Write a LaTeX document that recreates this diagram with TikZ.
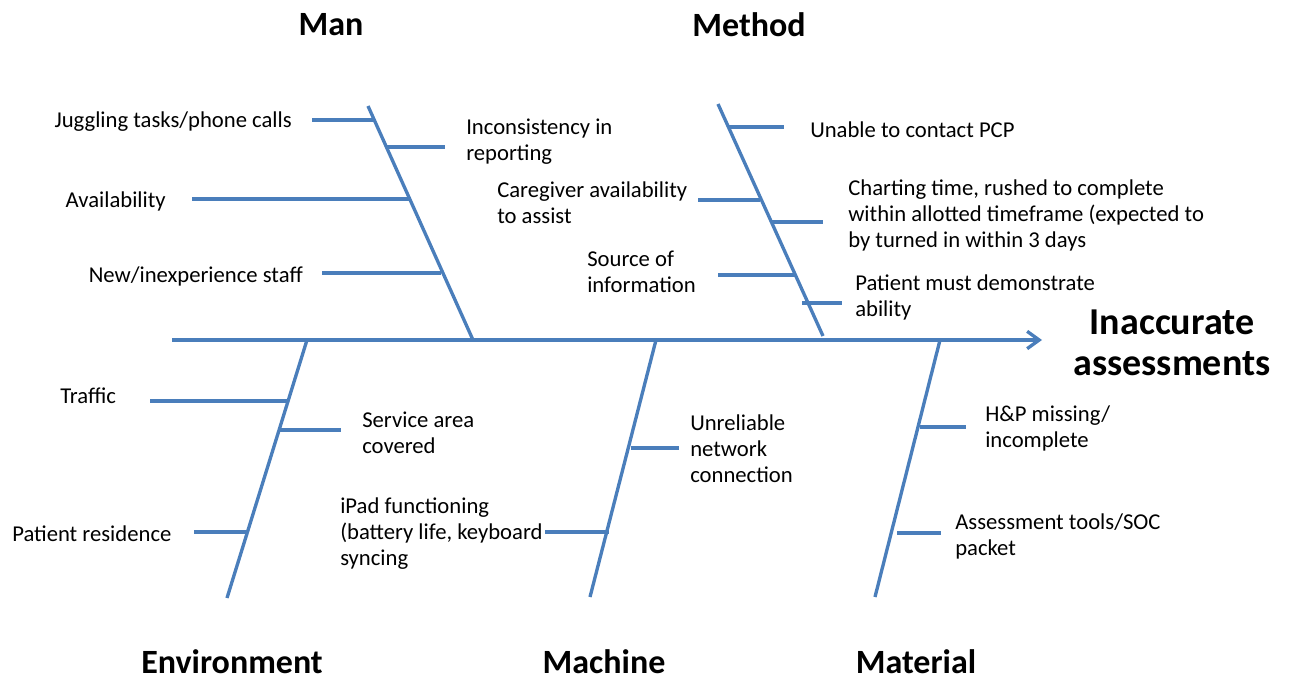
\documentclass[tikz,border=0pt]{standalone}
\usepackage{fontspec}
\setmainfont{Carlito}
\usetikzlibrary{arrows.meta}
\definecolor{bonecol}{RGB}{74,126,187}
\begin{document}
\begin{tikzpicture}[x=0.75pt,y=-0.75pt,
  bone/.style={draw=bonecol,line width=2.5pt},
  twig/.style={draw=bonecol,line width=2.5pt},
  lbl/.style={inner sep=0pt,align=left,font=\fontsize{17}{19.5}\selectfont},
  head/.style={inner sep=0pt,font=\bfseries\fontsize{25.5}{30}\selectfont},
  result/.style={inner sep=0pt,align=center,font=\bfseries\fontsize{28.5}{31}\selectfont}]
\useasboundingbox (0,0) rectangle (1290,681);

% spine
\coordinate(tail) at (172,340);
\coordinate(tip) at (1042,340);
\draw[bone,-{Straight Barb[length=9pt,width=13pt]}] (tail) -- (tip);
\node(effect)[result] at (1172,343){Inaccurate\\assessments};

% category titles
\node(Man)[head] at (331,25){Man};
\node(Method)[head] at (749,25){Method};
\node(Env)[head] at (232,662){Environment};
\node(Mach)[head] at (604,662){Machine};
\node(Mat)[head] at (916,662){Material};

% bones
\coordinate(ManT) at (368,106);
\coordinate(ManB) at (473,340);
\coordinate(MetT) at (718,104);
\coordinate(MetB) at (823,336);
\coordinate(EnvT) at (307,340);
\coordinate(EnvB) at (227,598);
\coordinate(MacT) at (656,340);
\coordinate(MacB) at (590,597);
\coordinate(MatT) at (940,340);
\coordinate(MatB) at (875,597);
\draw[bone] (ManT) -- (ManB);
\draw[bone] (MetT) -- (MetB);
\draw[bone] (EnvT) -- (EnvB);
\draw[bone] (MacT) -- (MacB);
\draw[bone] (MatT) -- (MatB);

% Man
\node(Jug)[lbl,anchor=east] at (292,122){Juggling tasks/phone calls};
\node(Incons)[lbl,anchor=west] at (466,142){Inconsistency in\\reporting};
\node(Avail)[lbl,anchor=east] at (166,201){Availability};
\node(Staff)[lbl,anchor=east] at (303,276){New/inexperience staff};
\coordinate(j1) at (312,120); \coordinate(j2) at (374,120);
\coordinate(i1) at (386,147); \coordinate(i2) at (445,147);
\coordinate(a1) at (192,199); \coordinate(a2) at (409,199);
\coordinate(s1) at (322,273); \coordinate(s2) at (441,273);
\draw[twig] (j1) -- (j2);
\draw[twig] (i1) -- (i2);
\draw[twig] (a1) -- (a2);
\draw[twig] (s1) -- (s2);

% Method
\node(Unable)[lbl,anchor=west] at (810,130){Unable to contact PCP};
\node(Care)[lbl,anchor=west] at (497,203){Caregiver availability\\to assist};
\node(Chart)[lbl,anchor=west] at (848,215){Charting time, rushed to complete\\within allotted timeframe (expected to\\by turned in within 3 days};
\node(Source)[lbl,anchor=west] at (587,272){Source of\\information};
\node(Demo)[lbl,anchor=west] at (855,297){Patient must demonstrate\\ability};
\coordinate(u1) at (728,127); \coordinate(u2) at (784,127);
\coordinate(c1) at (698,200); \coordinate(c2) at (760,200);
\coordinate(h1) at (772,222); \coordinate(h2) at (823,222);
\coordinate(o1) at (718,275); \coordinate(o2) at (796,275);
\coordinate(d1) at (802,303); \coordinate(d2) at (842,303);
\draw[twig] (u1) -- (u2);
\draw[twig] (c1) -- (c2);
\draw[twig] (h1) -- (h2);
\draw[twig] (o1) -- (o2);
\draw[twig] (d1) -- (d2);

% Environment
\node(Traffic)[lbl,anchor=west] at (60,396){Traffic};
\node(Area)[lbl,anchor=west] at (362,433){Service area\\covered};
\node(Resid)[lbl,anchor=west] at (12,534){Patient residence};
\coordinate(t1) at (150,401); \coordinate(t2) at (288,401);
\coordinate(r1) at (279,430); \coordinate(r2) at (341,430);
\coordinate(e1) at (194,532); \coordinate(e2) at (248,532);
\draw[twig] (t1) -- (t2);
\draw[twig] (r1) -- (r2);
\draw[twig] (e1) -- (e2);

% Machine
\node(Net)[lbl,anchor=west] at (690,449){Unreliable\\network\\connection};
\node(Ipad)[lbl,anchor=west] at (340,534){iPad functioning\\(battery life, keyboard\\syncing};
\coordinate(n1) at (631,448); \coordinate(n2) at (679,448);
\coordinate(p1) at (545,532); \coordinate(p2) at (609,532);
\draw[twig] (n1) -- (n2);
\draw[twig] (p1) -- (p2);

% Material
\node(HP)[lbl,anchor=west] at (985,428){H\&P missing/\\incomplete};
\node(Tools)[lbl,anchor=west] at (955,536){Assessment tools/SOC\\packet};
\coordinate(m1) at (920,427); \coordinate(m2) at (966,427);
\coordinate(q1) at (897,533); \coordinate(q2) at (941,533);
\draw[twig] (m1) -- (m2);
\draw[twig] (q1) -- (q2);
\end{tikzpicture}
\end{document}
